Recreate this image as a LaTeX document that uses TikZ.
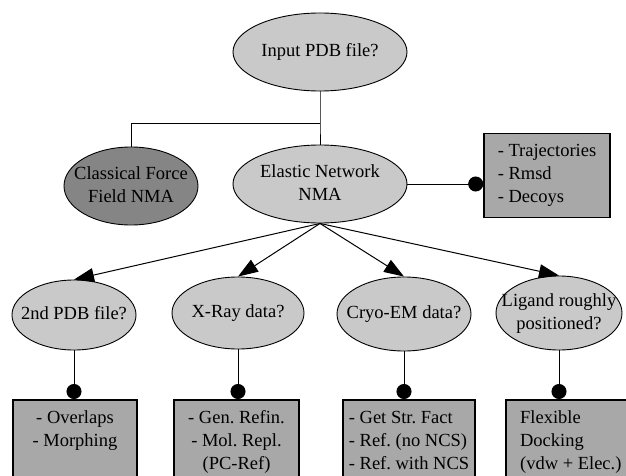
\documentclass[tikz,border=0pt]{standalone}
\usepackage{fontspec}
\setmainfont{Liberation Serif}
\usepackage{tikz}
\usetikzlibrary{arrows.meta}
\usetikzlibrary{shapes.geometric}
\definecolor{qgray}{gray}{0.79}
\definecolor{dgray}{gray}{0.52}
\definecolor{bgray}{gray}{0.66}
\newcommand{\qtext}[1]{\makebox[0pt]{\raisebox{-.25em}[0pt][0pt]{$\vcenter{\hbox{\begin{tabular}{@{}c@{}}#1\end{tabular}}}$}}}
\frenchspacing

\begin{document}
\begin{tikzpicture}[x=1pt,y=-1pt,every node/.style={draw,font=\fontsize{18.5}{23}\selectfont},
		q/.style 2 args={ellipse,fill=qgray,line width=.9pt,inner sep=0pt,minimum width=#1,minimum height=#2},
		res/.style={rectangle,fill=bgray,line width=1.6pt,inner ysep=11pt}]
				\useasboundingbox (0,0) rectangle (626,476);
				\clip (0,0) rectangle (626,476);
				\node[q={174pt}{78pt}] (input) at (320,52){\qtext{Input PDB file?}};
				\node[q={134pt}{78pt},fill=dgray] (classic) at (131,186){\qtext{Classical Force\\Field NMA}};
				\node[q={174pt}{78pt}] (enm) at (320,184){\qtext{Elastic Network\\NMA}};
				\node[res,minimum width=126pt,minimum height=83pt,align=left] (traj) at (547,175.5){- Trajectories\\- Rmsd\\- Decoys};
				\node[q={124pt}{70pt}] (pdb) at (74,315){\qtext{2nd PDB file?}};
				\node[q={132pt}{72pt}] (xray) at (238,313){\qtext{X-Ray data?}};
				\node[q={134pt}{74pt}] (cryo) at (404,314){\qtext{Cryo-EM data?}};
				\node[q={126pt}{74pt}] (lig) at (559,313){\qtext{Ligand roughly\\positioned?}};
				\node[res,anchor=north,minimum width=124pt,align=center] (morph) at (75,399){- Overlaps\\- Morphing\\\mbox{}};
				\node[res,anchor=north,minimum width=125pt,align=center] (refin) at (236.5,399){- Gen. Refin.\\- Mol. Repl.\\(PC-Ref)};
				\node[res,anchor=north,minimum width=132pt,align=left] (strfact) at (409,399){- Get Str. Fact\\- Ref. (no NCS)\\- Ref. with NCS};
				\node[res,anchor=north west,minimum width=130pt,align=left] (dock) at (505,399){Flexible\\Docking\\(vdw + Elec.)};
				\coordinate (split) at (320,124);
				\begin{scope}[line width=1pt]
				\draw (input)--(split)--(enm);
				\draw (split)-|(classic);
				\draw[-{Circle[length=15pt]}] (enm.east)--(enm.east-|traj.west);
				\foreach \n in {pdb,xray,cryo,lig}
					\draw[-{Triangle[length=20pt,width=14pt]}] (enm.south)--(\n.north);
				\foreach \q/\r in {pdb/morph,xray/refin,cryo/strfact,lig/dock}
					\draw[-{Circle[length=15pt]}] (\q.south)--(\q.south|-\r.north);
				\end{scope}
			\end{tikzpicture}
\end{document}
